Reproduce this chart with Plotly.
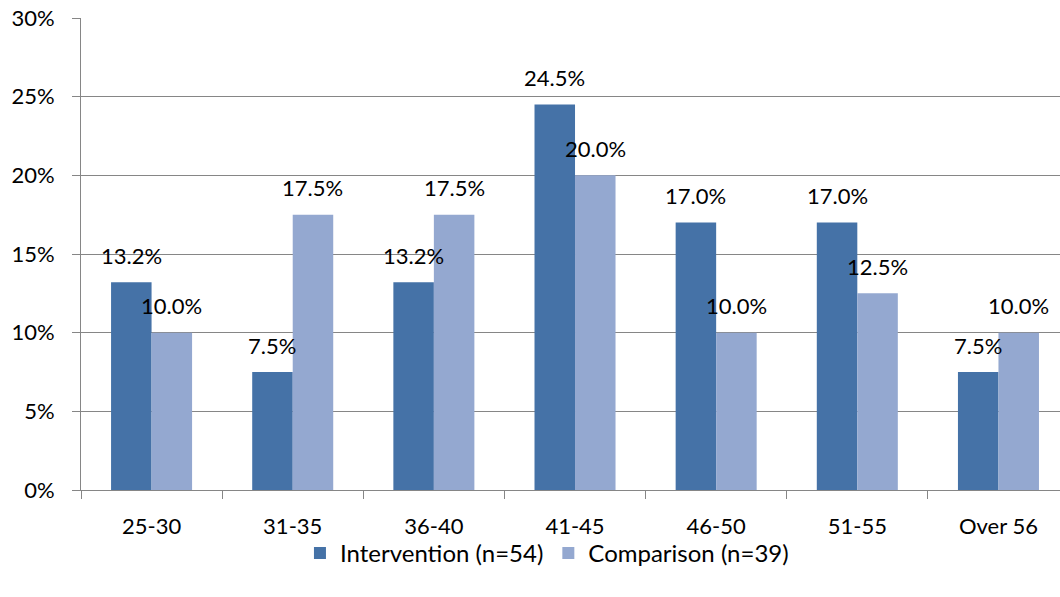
import plotly.graph_objects as go

# Age groups and the share of each group in both study arms (%)
age_groups = ["25-30", "31-35", "36-40", "41-45", "46-50", "51-55", "Over 56"]
intervention = [13.2, 7.5, 13.2, 24.5, 17.0, 17.0, 7.5]
comparison = [10.0, 17.5, 17.5, 20.0, 10.0, 12.5, 10.0]
series_names = ["Intervention (n=54)", "Comparison (n=39)"]
y_ticks = [0, 5, 10, 15, 20, 25, 30]

W, H = 1060, 597
M_L, M_R, M_T, M_B = 81, 0, 18, 107
BARGAP = 0.426
X_MAX = 6.436  # right edge of the visible category range

FONT = dict(family="Lato, Calibri, Carlito, sans-serif", size=22, color="#000000")
LEGEND_FONT = dict(FONT, size=24)
GRID = "#868686"
COLORS = ["#4572A7", "#94A8D0"]

fig = go.Figure()
for name, vals, col in zip(series_names, [intervention, comparison], COLORS):
    fig.add_trace(go.Bar(
        x=age_groups, y=vals, name=name,
        marker=dict(color=col, line=dict(width=0)),
    ))

# value labels, centred over each bar
px_per_cat = (W - M_L - M_R) / (X_MAX + 0.5)
half_bar_px = (1 - BARGAP) / 4 * px_per_cat
for sign, vals in [(-1, intervention), (1, comparison)]:
    for cat, v in zip(age_groups, vals):
        fig.add_annotation(
            x=cat, y=v, xref="x", yref="y",
            text=f"{v:.1f}%", showarrow=False,
            xshift=sign * half_bar_px, yshift=27,
            yanchor="middle", xanchor="center",
            font=FONT,
        )

fig.update_layout(
    width=W, height=H,
    margin=dict(l=M_L, r=M_R, t=M_T, b=M_B, autoexpand=False),
    paper_bgcolor="white", plot_bgcolor="white",
    barmode="group", bargap=BARGAP, bargroupgap=0,
    font=FONT,
    showlegend=True,
    legend=dict(
        orientation="h", xref="container", yref="container",
        x=0.516, y=0.073, xanchor="center", yanchor="middle",
        bgcolor="rgba(0,0,0,0)",
        font=LEGEND_FONT, itemsizing="constant", traceorder="normal",
    ),
)
fig.update_xaxes(
    type="category", range=[-0.5, X_MAX], automargin=False,
    showgrid=False, showline=True, linecolor=GRID, linewidth=1,
    ticks="outside", ticklen=8, tickcolor=GRID, tickson="boundaries",
    ticklabelstandoff=17, tickfont=FONT,
)
fig.update_yaxes(
    range=[0, 30], tickvals=y_ticks, ticktext=[f"{t}%" for t in y_ticks],
    automargin=False,
    showgrid=True, gridcolor=GRID, gridwidth=1,
    showline=True, linecolor=GRID, linewidth=1,
    ticks="outside", ticklen=8, tickcolor=GRID,
    ticklabelstandoff=13, tickfont=FONT, zeroline=False,
)

fig.write_html("out.html")
